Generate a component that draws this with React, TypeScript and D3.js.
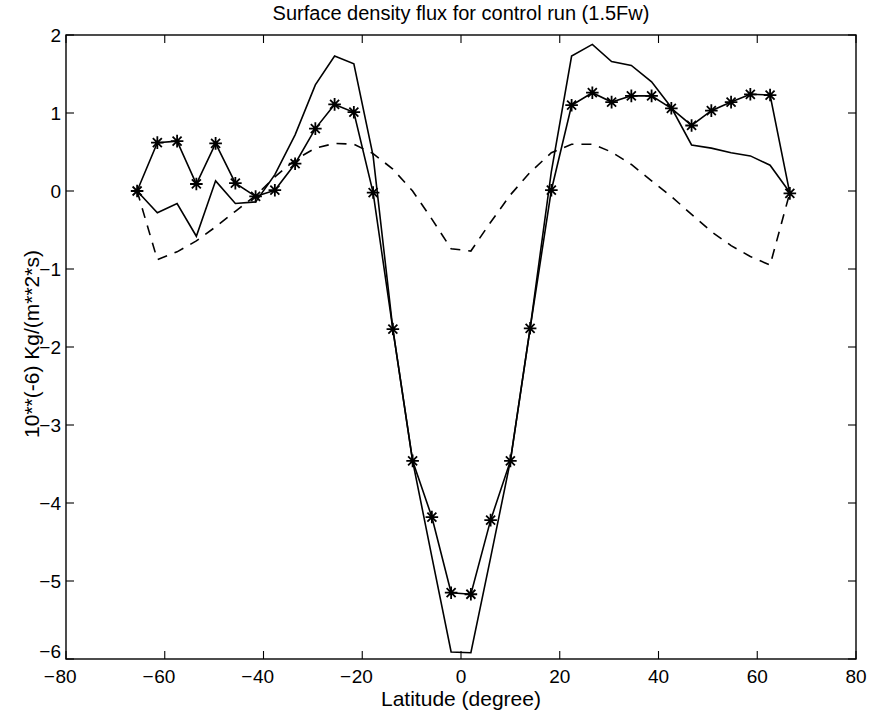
import React from "react";
import * as d3 from "d3";

const latitudes = [
  -65.6, -61.5, -57.5, -53.6, -49.7, -45.7, -41.6, -37.7, -33.6, -29.5, -25.6, -21.7,
  -17.8, -13.8, -9.8, -5.9, -2.0, 2.0, 6.0, 10.0, 14.0, 18.3, 22.4, 26.6, 30.5, 34.5,
  38.6, 42.6, 46.7, 50.7, 54.7, 58.6, 62.6, 66.6,
];

const starSeries = [
  0.0, 0.62, 0.64, 0.09, 0.61, 0.1, -0.07, 0.01, 0.35, 0.8, 1.11, 1.01,
  -0.02, -1.77, -3.46, -4.18, -5.15, -5.17, -4.22, -3.46, -1.76, 0.01, 1.1, 1.26, 1.14, 1.22,
  1.22, 1.06, 0.84, 1.03, 1.14, 1.24, 1.23, -0.03,
];

const solidSeries = [
  0.0, -0.28, -0.16, -0.58, 0.13, -0.16, -0.14, 0.21, 0.72, 1.36, 1.73, 1.63,
  0.45, -1.77, -3.46, -4.69, -5.91, -5.92, -4.7, -3.46, -1.76, 0.25, 1.73, 1.88, 1.66, 1.61,
  1.4, 1.07, 0.59, 0.55, 0.49, 0.45, 0.33, -0.02,
];

const dashedSeries = [
  0.0, -0.88, -0.78, -0.64, -0.46, -0.26, -0.06, 0.18, 0.4, 0.55, 0.61, 0.6,
  0.48, 0.28, 0.0, -0.36, -0.74, -0.77, -0.4, -0.05, 0.24, 0.49, 0.6, 0.6, 0.5, 0.34,
  0.13, -0.07, -0.3, -0.52, -0.7, -0.84, -0.95, -0.02,
];

const xTicks = [-80, -60, -40, -20, 0, 20, 40, 60, 80];
const yTicks = [-6, -5, -4, -3, -2, -1, 0, 1, 2];

const titleText = "Surface density flux for control run (1.5Fw)";
const xLabelText = "Latitude (degree)";
const yLabelText = "10**(-6) Kg/(m**2*s)";

const W = 873;
const H = 719;
const M = { left: 66, right: 856, top: 35, bottom: 659 };
const FONT = "'Liberation Sans', Arial, Helvetica, sans-serif";
const TICK_FS = 19;
const LABEL_FS = 21;
const TITLE_FS = 20;

export default function App() {
  const x = d3.scaleLinear().domain([-80, 80]).range([M.left, M.right]);
  const y = d3.scaleLinear().domain([-6, 2]).range([M.bottom, M.top]);

  const pts = (vals: number[]) => latitudes.map((lat, i) => [lat, vals[i]] as [number, number]);
  const line = d3
    .line<[number, number]>()
    .x((d) => x(d[0]))
    .y((d) => y(d[1]));

  const tickLen = 8;
  const MINUS = "\u2212";

  const star = (cx: number, cy: number) => {
    const r = 6.3;
    const d = 4.5;
    return `M${cx - r},${cy}L${cx + r},${cy}M${cx},${cy - r}L${cx},${cy + r}M${cx - d},${cy - d}L${cx + d},${cy + d}M${cx - d},${cy + d}L${cx + d},${cy - d}`;
  };

  return (
    <svg
      width={W}
      height={H}
      style={{ position: "absolute", left: 0, top: 0, background: "#fff" }}
      fontFamily={FONT}
    >
      <rect x={0} y={0} width={W} height={H} fill="#fff" />
      {/* axes box */}
      <rect
        x={M.left}
        y={M.top}
        width={M.right - M.left}
        height={M.bottom - M.top}
        fill="none"
        stroke="#000"
        strokeWidth={1.4}
      />
      {/* x ticks */}
      {xTicks.map((t) => {
        const digits = String(Math.abs(t));
        const dw = digits.length * 0.556 * TICK_FS;
        return (
          <g key={"xt" + t}>
            <line x1={x(t)} x2={x(t)} y1={M.bottom} y2={M.bottom - tickLen} stroke="#000" strokeWidth={1.1} />
            <line x1={x(t)} x2={x(t)} y1={M.top} y2={M.top + tickLen} stroke="#000" strokeWidth={1.1} />
            <text x={x(t)} y={M.bottom + 24} textAnchor="middle" fontSize={TICK_FS} fill="#000">
              {digits}
            </text>
            {t < 0 && (
              <text x={x(t) - dw / 2 - 0.5} y={M.bottom + 24} textAnchor="end" fontSize={TICK_FS} fill="#000">
                {MINUS}
              </text>
            )}
          </g>
        );
      })}
      {/* y ticks */}
      {yTicks.map((t) => (
        <g key={"yt" + t}>
          <line x1={M.left} x2={M.left + tickLen} y1={y(t)} y2={y(t)} stroke="#000" strokeWidth={1.1} />
          <line x1={M.right} x2={M.right - tickLen} y1={y(t)} y2={y(t)} stroke="#000" strokeWidth={1.1} />
          <text
            x={M.left - 5}
            y={y(t) + (t === yTicks[0] ? -8 : 0)}
            dy="0.36em"
            textAnchor="end"
            fontSize={TICK_FS}
            fill="#000"
          >
            {t < 0 ? MINUS + Math.abs(t) : String(t)}
          </text>
        </g>
      ))}
      {/* series */}
      <path d={line(pts(dashedSeries)) || ""} fill="none" stroke="#000" strokeWidth={1.6} strokeDasharray="10,8" />
      <path d={line(pts(solidSeries)) || ""} fill="none" stroke="#000" strokeWidth={1.6} />
      <path d={line(pts(starSeries)) || ""} fill="none" stroke="#000" strokeWidth={1.6} />
      {latitudes.map((lat, i) => (
        <path key={"st" + i} d={star(x(lat), y(starSeries[i]))} stroke="#000" strokeWidth={1.8} fill="none" />
      ))}
      {/* labels */}
      <text x={(M.left + M.right) / 2} y={20} textAnchor="middle" fontSize={TITLE_FS} fill="#000">
        {titleText}
      </text>
      <text x={(M.left + M.right) / 2} y={706} textAnchor="middle" fontSize={LABEL_FS} fill="#000">
        {xLabelText}
      </text>
      <text
        transform={`translate(39, ${(M.top + M.bottom) / 2 - 3}) rotate(-90)`}
        textAnchor="middle"
        fontSize={LABEL_FS}
        fill="#000"
      >
        {yLabelText}
      </text>
    </svg>
  );
}
